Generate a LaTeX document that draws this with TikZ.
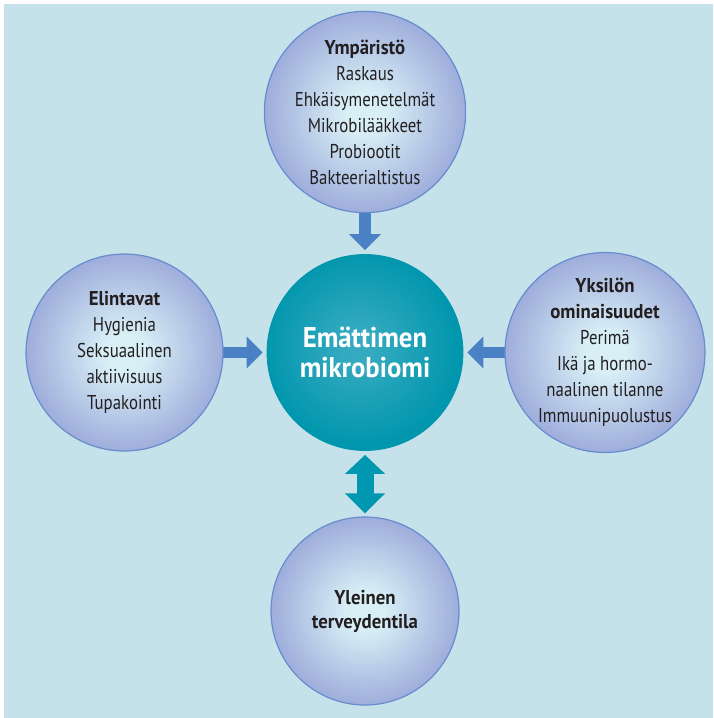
\documentclass[tikz,border=0pt]{standalone}
\usepackage{fontspec}
\setmainfont[FakeStretch=0.84, BoldFeatures={FakeStretch=0.94}]{PT Sans}
\usetikzlibrary{arrows.meta}
\definecolor{bgc}{RGB}{197,226,234}
\definecolor{ballin}{RGB}{216,239,246}
\definecolor{ballout}{RGB}{158,173,219}
\definecolor{ballline}{RGB}{104,140,206}
\definecolor{tealin}{RGB}{52,170,192}
\definecolor{tealout}{RGB}{0,150,173}
\definecolor{arrowblue}{RGB}{74,128,196}
\definecolor{tealarrow}{RGB}{0,152,176}
\definecolor{txt}{RGB}{35,31,32}
\pgfdeclareradialshading{ballshade}{\pgfpoint{0bp}{0bp}}{color(0bp)=(ballin); color(5bp)=(ballin); color(25bp)=(ballout); color(50bp)=(ballout)}
\pgfdeclareradialshading{tealshade}{\pgfpoint{-2bp}{2bp}}{color(0bp)=(tealin); color(4bp)=(tealin); color(25bp)=(tealout); color(50bp)=(tealout)}
\pgfdeclarelayer{back}
\pgfdeclarelayer{arrowlayer}
\pgfsetlayers{back,arrowlayer,main}
\tikzset{
  ball/.style={circle, draw=ballline, line width=1.2pt, shading=ballshade, inner sep=0pt, align=center, text=txt, font=\fontsize{20}{26}\selectfont},
  core/.style={circle, draw=tealout, line width=0.8pt, shading=tealshade, inner sep=0pt, align=center, text=white, font=\bfseries\fontsize{28.5}{29.5}\selectfont},
  blockarrow/.style={draw=arrowblue, line width=11.5pt, -{Triangle[width=31pt,length=16pt]}, shorten >=4pt},
  dblarrow/.style={draw=tealarrow, line width=17pt, {Triangle[width=39pt,length=19pt]}-{Triangle[width=39pt,length=20pt]}, shorten <=4pt, shorten >=3pt}
}
\begin{document}
\begin{tikzpicture}[x=1pt,y=-1pt]
\useasboundingbox (0,0) rectangle (713,718);
\begin{pgfonlayer}{back}
\fill[white] (0,0) rectangle (713,718);
\fill[bgc] (4,4) rectangle (713,718);
\end{pgfonlayer}
\node[ball, minimum size=194pt] (top) at (365,112) {\textbf{Ympäristö}\\Raskaus\\Ehkäisymenetelmät\\Mikrobilääkkeet\\Probiootit\\Bakteerialtistus};
\node[ball, minimum size=197pt] (left) at (124.5,352.5) {\textbf{Elintavat}\\Hygienia\\Seksuaalinen\\aktiivisuus\\Tupakointi};
\node[ball, minimum size=196pt] (right) at (605,352.5) {\textbf{Yksilön}\\\textbf{ominaisuudet}\\Perimä\\Ikä ja hormo-\\naalinen tilanne\\Immuunipuolustus};
\node[ball, minimum size=188pt, font=\fontsize{20}{24}\selectfont] (bottom) at (365,611) {\textbf{Yleinen}\\\textbf{terveydentila}};
\node[core, minimum size=196pt] (core) at (365,352.5) {Emättimen\\mikrobiomi};
\begin{pgfonlayer}{arrowlayer}
\draw[blockarrow] (top.center) -- (core.north);
\draw[blockarrow] (left.center) -- (core.west);
\draw[blockarrow] (right.center) -- (core.east);
\draw[dblarrow] (core.south) -- (bottom.north);
\end{pgfonlayer}
\end{tikzpicture}
\end{document}
